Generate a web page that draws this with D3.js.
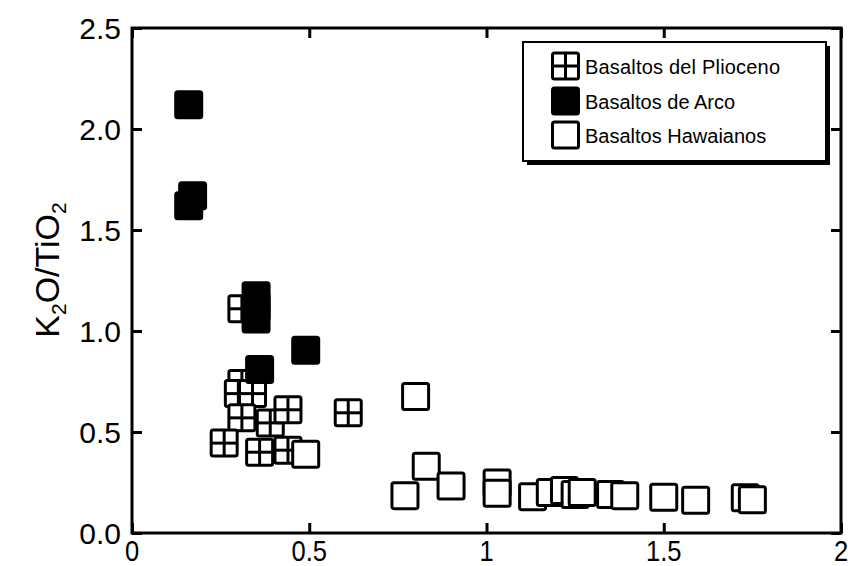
<!DOCTYPE html>
<html><head><meta charset="utf-8">
<script src="https://cdn.jsdelivr.net/npm/d3@7"></script>
<style>body{margin:0;background:#fff}svg{display:block}</style>
</head><body><svg id="c" width="848" height="566"></svg>
<script>
// ---- data ----
const xTickValues = [0, 0.5, 1, 1.5, 2];
const xTickLabels = ["0", "0.5", "1", "1.5", "2"];
const yTickValues = [0, 0.5, 1, 1.5, 2, 2.5];
const yTickLabels = ["0.0", "0.5", "1.0", "1.5", "2.0", "2.5"];
const seriesNames = ["Basaltos del Plioceno", "Basaltos de Arco", "Basaltos Hawaianos"];

const plioX = [0.31, 0.31, 0.30, 0.34, 0.31, 0.26, 0.36, 0.44, 0.39, 0.44, 0.61];
const plioY = [1.11, 0.74, 0.69, 0.69, 0.57, 0.445, 0.40, 0.41, 0.545, 0.61, 0.595];

const arcoX = [0.16, 0.171, 0.16, 0.35, 0.35, 0.35, 0.49, 0.36];
const arcoY = [2.12, 1.67, 1.62, 1.175, 1.12, 1.06, 0.905, 0.81];

const hawX = [0.49, 0.80, 0.83, 0.77, 0.90, 1.03, 1.03, 1.13, 1.18, 1.22, 1.25, 1.27, 1.35, 1.39, 1.50, 1.59, 1.73, 1.75];
const hawY = [0.39, 0.676, 0.33, 0.185, 0.233, 0.247, 0.197, 0.18, 0.20, 0.21, 0.19, 0.20, 0.19, 0.185, 0.177, 0.162, 0.175, 0.165];

// ---- layout ----
const L = 132, R = 841, T = 28, B = 533;
const svg = d3.select("#c");
const x = d3.scaleLinear().domain([0, 2]).range([L, R]);
const y = d3.scaleLinear().domain([0, 2.5]).range([B, T]);
const FONT = "Liberation Sans, Arial, Helvetica, sans-serif";

// frame
svg.append("rect").attr("x", L).attr("y", T).attr("width", R - L).attr("height", B - T)
  .attr("fill", "none").attr("stroke", "#000").attr("stroke-width", 3);

// ticks (inward, mirrored)
const tk = 10;
const axB = svg.append("g").attr("transform", `translate(0,${B})`)
  .call(d3.axisBottom(x).tickValues(xTickValues).tickSize(-tk).tickFormat(""));
const axT = svg.append("g").attr("transform", `translate(0,${T})`)
  .call(d3.axisTop(x).tickValues(xTickValues).tickSize(-tk).tickFormat(""));
const axL = svg.append("g").attr("transform", `translate(${L},0)`)
  .call(d3.axisLeft(y).tickValues(yTickValues).tickSize(-tk).tickFormat(""));
const axR = svg.append("g").attr("transform", `translate(${R},0)`)
  .call(d3.axisRight(y).tickValues(yTickValues).tickSize(-tk).tickFormat(""));
[axB, axT, axL, axR].forEach(a => {
  a.select(".domain").remove();
  a.selectAll(".tick line").attr("stroke", "#000").attr("stroke-width", 3);
});

// tick labels
svg.append("g").selectAll("text").data(xTickValues).join("text")
  .attr("transform", d => `translate(${x(d)},561) scale(0.88,1)`)
  .attr("text-anchor", "middle").attr("font-family", FONT).attr("font-size", 29)
  .text((d, i) => xTickLabels[i]);
svg.append("g").selectAll("text").data(yTickValues).join("text")
  .attr("x", 121).attr("y", d => y(d) + 11)
  .attr("text-anchor", "end").attr("font-family", FONT).attr("font-size", 30)
  .text((d, i) => yTickLabels[i]);

// y title
const yt = svg.append("text").attr("transform", "translate(59,270) rotate(-90)")
  .attr("text-anchor", "middle").attr("font-family", FONT).attr("font-size", 34);
yt.append("tspan").text("K");
yt.append("tspan").attr("font-size", 21).attr("dy", 7).text("2");
yt.append("tspan").attr("dy", -7).text("O/TiO");
yt.append("tspan").attr("font-size", 21).attr("dy", 7).text("2");

// markers
const S = 26;
function marker(g, type) {
  g.append("rect").attr("x", -S / 2).attr("y", -S / 2).attr("width", S).attr("height", S)
    .attr("rx", 2).attr("fill", type === "arco" ? "#000" : "#fff")
    .attr("stroke", "#000").attr("stroke-width", 3);
  if (type === "plio") {
    g.append("line").attr("x1", -S / 2).attr("x2", S / 2).attr("y1", 0).attr("y2", 0)
      .attr("stroke", "#000").attr("stroke-width", 3);
    g.append("line").attr("y1", -S / 2).attr("y2", S / 2).attr("x1", 0).attr("x2", 0)
      .attr("stroke", "#000").attr("stroke-width", 3);
  }
}
function drawSeries(xs, ys, type) {
  const pts = xs.map((v, i) => [v, ys[i]]);
  svg.append("g").selectAll("g").data(pts).join("g")
    .attr("transform", d => `translate(${x(d[0])},${y(d[1])})`)
    .each(function () { marker(d3.select(this), type); });
}
drawSeries(plioX, plioY, "plio");
drawSeries(arcoX, arcoY, "arco");
drawSeries(hawX, hawY, "haw");

// legend
const lg = svg.append("g");
lg.append("rect").attr("x", 527).attr("y", 46).attr("width", 303).attr("height", 119).attr("fill", "#000");
lg.append("rect").attr("x", 523).attr("y", 42).attr("width", 303).attr("height", 119)
  .attr("fill", "#fff").attr("stroke", "#000").attr("stroke-width", 2);
const types = ["plio", "arco", "haw"];
const rowY = [66, 101, 135];
types.forEach((t, i) => {
  const g = lg.append("g").attr("transform", `translate(565.5,${rowY[i]})`);
  marker(g, t);
  lg.append("text").attr("x", 585).attr("y", rowY[i] + 8)
    .attr("font-family", FONT).attr("font-size", 20).attr("textLength", i === 0 ? 195 : null)
    .text(seriesNames[i]);
});
</script></body></html>
